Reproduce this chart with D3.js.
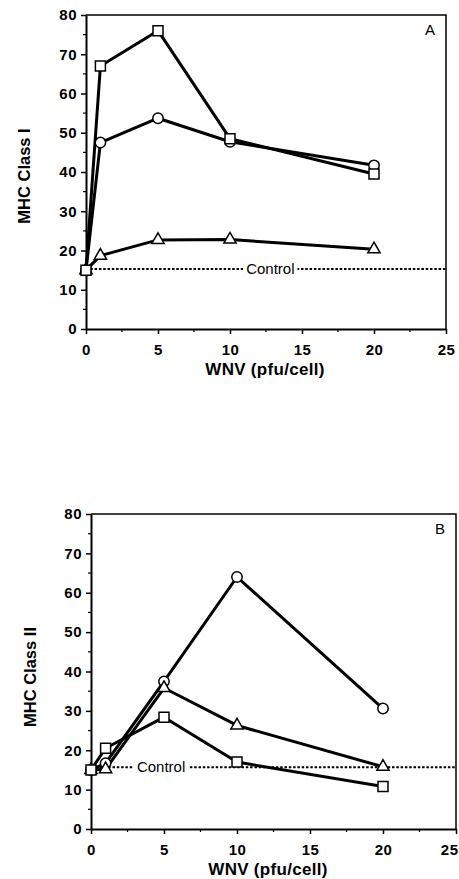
<!DOCTYPE html>
<html>
<head>
<meta charset="utf-8">
<script src="https://cdn.jsdelivr.net/npm/d3@7"></script>
<style>
  body { margin: 0; background: #fff; }
  svg { display: block; }
</style>
</head>
<body>
<svg id="chart"></svg>
<script>
// Data
const doses = [0, 1, 5, 10, 20];
const yTicks = [0, 10, 20, 30, 40, 50, 60, 70, 80];
const xTicks = [0, 5, 10, 15, 20, 25];

const classISquares = [15, 67, 76, 48.5, 39.5];
const classICircles = [15, 47.5, 53.7, 47.7, 41.7];
const classITriangles = [15, 18.7, 22.7, 22.8, 20.3];
const classIControl = 15.3;

const classIICircles = [15, 16.7, 37.5, 64, 30.6];
const classIITriangles = [15, 15.2, 35.8, 26.3, 15.8];
const classIISquares = [15, 20.5, 28.4, 17, 10.8];
const classIIControl = 15.7;

const svgWidth = 459;
const svgHeight = 879;

const svg = d3.select('#chart')
  .attr('width', svgWidth)
  .attr('height', svgHeight);

const font = '"Liberation Sans", Arial, sans-serif';

function drawPanel(cfg) {
  const x = d3.scaleLinear().domain([0, 25]).range([cfg.left, cfg.right]);
  const y = d3.scaleLinear().domain([0, 80]).range([cfg.bottom, cfg.top]);

  const g = svg.append('g');

  // box top/right
  g.append('path')
    .attr('d', `M${cfg.left},${cfg.top}H${cfg.right}V${cfg.bottom}`)
    .attr('fill', 'none')
    .attr('stroke', '#000')
    .attr('stroke-width', 1.5);

  // minor ticks
  const yMinor = d3.range(5, 80, 10);
  const xMinor = d3.range(2.5, 25, 5);

  const yAxis = g.append('g')
    .attr('transform', `translate(${cfg.left},0)`)
    .call(d3.axisLeft(y).tickValues(yTicks).tickSize(5).tickPadding(4).tickSizeOuter(0));
  yAxis.append('g').selectAll('line').data(yMinor).join('line')
    .attr('x1', 0).attr('x2', -3)
    .attr('y1', d => y(d)).attr('y2', d => y(d))
    .attr('stroke', '#000').attr('stroke-width', 1.2);

  const xAxis = g.append('g')
    .attr('transform', `translate(0,${cfg.bottom})`)
    .call(d3.axisBottom(x).tickValues(xTicks).tickSize(5).tickPadding(10).tickSizeOuter(0));
  xAxis.append('g').selectAll('line').data(xMinor).join('line')
    .attr('y1', 0).attr('y2', 3)
    .attr('x1', d => x(d)).attr('x2', d => x(d))
    .attr('stroke', '#000').attr('stroke-width', 1.2);

  [yAxis, xAxis].forEach(a => {
    a.select('.domain').attr('stroke-width', 2);
    a.selectAll('.tick line').attr('stroke-width', 1.5);
    a.selectAll('text')
      .style('font-family', font)
      .style('font-size', '15px')
      .style('font-weight', 'bold')
      .style('letter-spacing', '0.5px')
      .attr('fill', '#000');
  });

  // keep the last x label inside the page
  xAxis.selectAll('.tick text').each(function () {
    const b = this.getBBox();
    const cx = x(d3.select(this.parentNode).datum());
    if (cx + b.width / 2 > svgWidth - 1) {
      d3.select(this).attr('text-anchor', 'end').attr('x', svgWidth - 1 - cx);
    }
  });

  // control line
  const ctrl = g.append('g');
  ctrl.append('line')
    .attr('x1', x(0)).attr('x2', x(25))
    .attr('y1', y(cfg.control)).attr('y2', y(cfg.control))
    .attr('stroke', '#000')
    .attr('stroke-width', 2)
    .attr('stroke-dasharray', '2.5,1.8');
  const lbl = ctrl.append('text')
    .attr('x', x(cfg.controlX))
    .attr('y', y(cfg.control))
    .attr('dy', '0.35em')
    .attr('text-anchor', 'middle')
    .style('font-family', font)
    .style('font-size', '15px')
    .text('Control');
  const bb = lbl.node().getBBox();
  ctrl.insert('rect', 'text')
    .attr('x', bb.x - 3).attr('y', bb.y)
    .attr('width', bb.width + 6).attr('height', bb.height)
    .attr('fill', '#fff');

  const line = d3.line()
    .x((d, i) => x(doses[i]))
    .y(d => y(d));

  cfg.series.forEach(s => {
    g.append('path')
      .datum(s.values)
      .attr('fill', 'none')
      .attr('stroke', '#000')
      .attr('stroke-width', 3)
      .attr('stroke-linejoin', 'round')
      .attr('d', line);
  });

  const shapes = {
    square: d3.symbol().type(d3.symbolSquare).size(100),
    circle: d3.symbol().type(d3.symbolCircle).size(85),
    triangle: d3.symbol().type(d3.symbolTriangle).size(65)
  };

  cfg.series.forEach(s => {
    g.append('g').selectAll('path')
      .data(s.values)
      .join('path')
      .attr('transform', (d, i) => `translate(${x(doses[i])},${y(d)})`)
      .attr('d', shapes[s.shape])
      .attr('fill', '#fff')
      .attr('stroke', '#000')
      .attr('stroke-width', 1.5);
  });

  // panel letter
  g.append('text')
    .attr('x', cfg.right - 11)
    .attr('y', cfg.top + 20)
    .attr('text-anchor', 'end')
    .style('font-family', font)
    .style('font-size', '15px')
    .text(cfg.letter);

  // axis titles
  g.append('text')
    .attr('x', cfg.xLabelX)
    .attr('y', cfg.bottom + 46)
    .attr('text-anchor', 'middle')
    .style('font-family', font)
    .style('font-size', '17px')
    .style('font-weight', 'bold')
    .style('letter-spacing', '0.3px')
    .text('WNV (pfu/cell)');

  g.append('text')
    .attr('transform', `translate(${cfg.yLabelX},${cfg.yLabelY}) rotate(-90)`)
    .attr('text-anchor', 'middle')
    .style('font-family', font)
    .style('font-size', '16.5px')
    .style('font-weight', 'bold')
    .text(cfg.yLabel);
}

drawPanel({
  left: 86, right: 446, top: 15, bottom: 329,
  control: classIControl, controlX: 12.8,
  letter: 'A', yLabel: 'MHC Class I',
  xLabelX: 265, yLabelX: 30, yLabelY: 176,
  series: [
    { shape: 'triangle', values: classITriangles },
    { shape: 'circle', values: classICircles },
    { shape: 'square', values: classISquares }
  ]
});

drawPanel({
  left: 91, right: 456, top: 514, bottom: 829,
  control: classIIControl, controlX: 4.8,
  letter: 'B', yLabel: 'MHC Class II',
  xLabelX: 268, yLabelX: 36, yLabelY: 677,
  series: [
    { shape: 'circle', values: classIICircles },
    { shape: 'triangle', values: classIITriangles },
    { shape: 'square', values: classIISquares }
  ]
});
</script>
</body>
</html>
